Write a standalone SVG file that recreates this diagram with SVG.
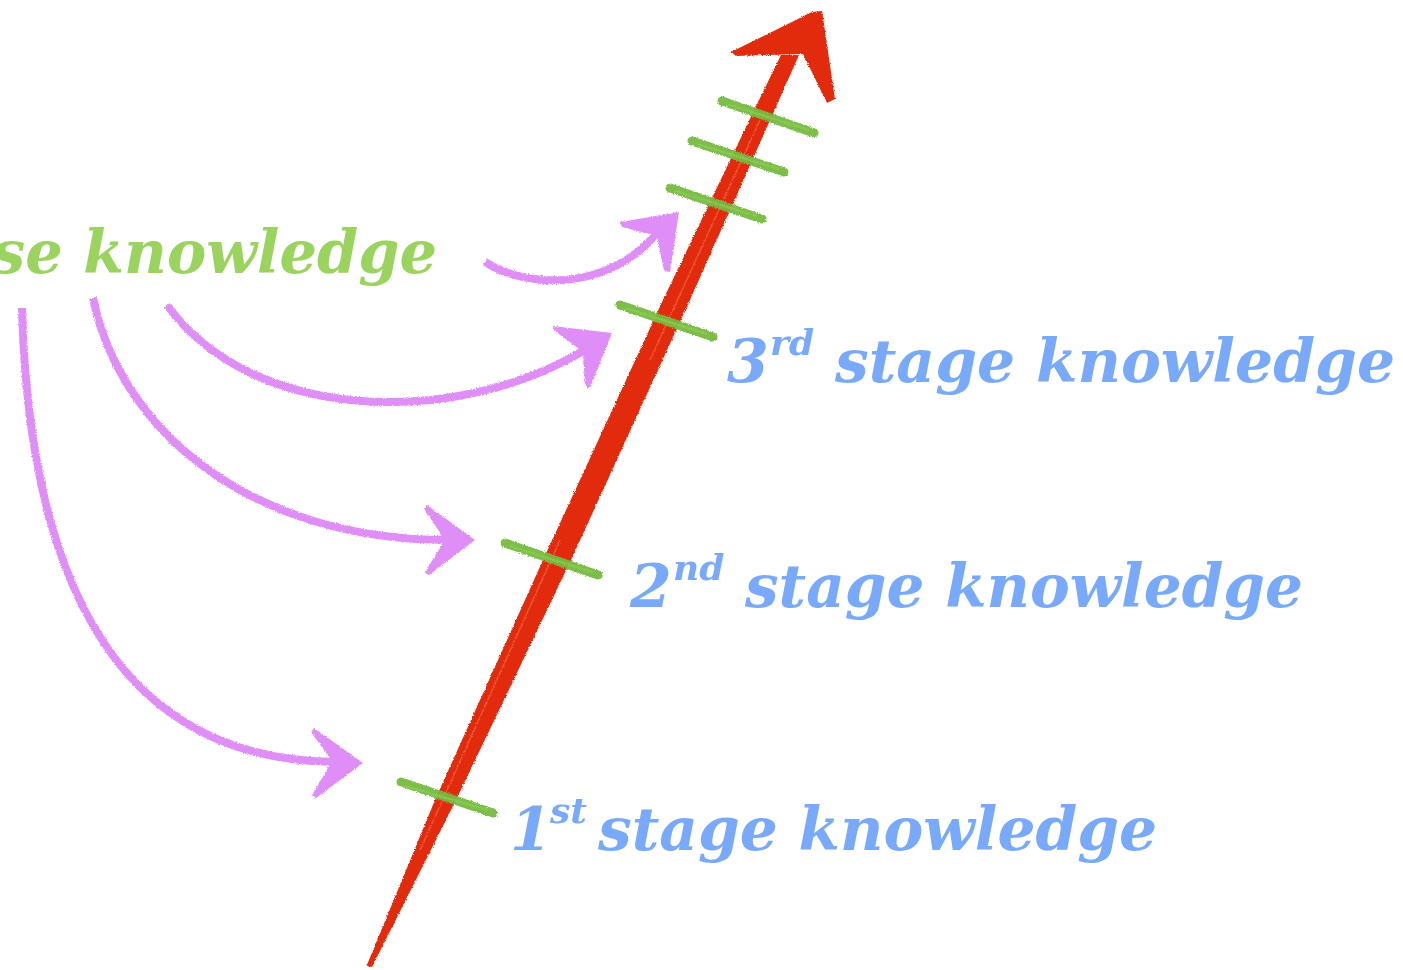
<svg xmlns="http://www.w3.org/2000/svg" width="1403" height="970" viewBox="0 0 1403 970">
<defs>
<filter id="rough" filterUnits="userSpaceOnUse" x="0" y="0" width="1403" height="970">
<feTurbulence type="fractalNoise" baseFrequency="0.9" numOctaves="2" seed="4" result="n"/>
<feDisplacementMap in="SourceGraphic" in2="n" scale="3" xChannelSelector="R" yChannelSelector="G"/>
</filter>
<style>
.lbl{font-family:"DejaVu Serif","Liberation Serif",serif;font-weight:bold;font-style:italic;}
.blue{fill:#78a9fa;font-size:60px;}
.sup{fill:#78a9fa;font-size:36px;}
.green{fill:#9ad35d;font-size:60px;}
.pur{fill:none;stroke:#e08ef7;stroke-width:8;stroke-linecap:butt;}
.purh{fill:#e08ef7;}
.tick{stroke:#76ba40;stroke-width:9;stroke-linecap:round;fill:none;opacity:0.95;}
.tick2{stroke:#8fcc55;stroke-width:2;fill:none;opacity:0.8;}
.red{fill:#e22a0a;}
</style>
</defs>
<rect width="1403" height="970" fill="#ffffff"/>

<g id="axis" filter="url(#rough)">
<path class="red" d="M366.5,966 L435,800 L543,560 L663,300 L759,100 L781,55 L799,55 L779,100 L690,300 L571,560 L456,800 L372,967 Z"/>
<path class="red" d="M731,52 L812,12 L822,11 L835,99 L827,103 L803,54 L736,56 Z"/>
<path d="M420,850 L560,540 M650,360 L760,120" stroke="#f2735a" stroke-width="1.5" opacity="0.6" fill="none"/>
</g>

<g id="ticks" filter="url(#rough)">
<path class="tick" d="M401,782 L493,813"/>
<path class="tick2" d="M405,786 L488,810"/>
<path class="tick" d="M505,543 L598,575"/>
<path class="tick2" d="M510,546 L592,572"/>
<path class="tick" d="M620,305 L713,337"/>
<path class="tick2" d="M625,308 L707,334"/>
<path class="tick" d="M670,188 L762,219"/>
<path class="tick2" d="M675,191 L757,216"/>
<path class="tick" d="M692,141 L784,172"/>
<path class="tick2" d="M697,144 L779,169"/>
<path class="tick" d="M722,101 L814,133"/>
<path class="tick2" d="M727,104 L809,130"/>
</g>

<g id="source">
<text class="lbl green" x="437" y="273" text-anchor="end" textLength="445" lengthAdjust="spacingAndGlyphs">se knowledge</text>
</g>

<g id="stage3">
<text class="lbl blue" x="727" y="382">3</text>
<text class="lbl sup" x="770" y="355">rd</text>
<text class="lbl blue" x="835" y="382" textLength="560" lengthAdjust="spacingAndGlyphs">stage knowledge</text>
</g>
<g id="stage2">
<text class="lbl blue" x="630" y="607">2</text>
<text class="lbl sup" x="673" y="580">nd</text>
<text class="lbl blue" x="745" y="607" textLength="558" lengthAdjust="spacingAndGlyphs">stage knowledge</text>
</g>
<g id="stage1">
<text class="lbl blue" x="510" y="850">1</text>
<text class="lbl sup" x="550" y="823">st</text>
<text class="lbl blue" x="598" y="850" textLength="559" lengthAdjust="spacingAndGlyphs">stage knowledge</text>
</g>

<g id="connectors" filter="url(#rough)">
<path class="pur" d="M485,262 C530,290 610,290 657,233"/>
<path class="purh" d="M620,222 L679,212 L670,272 L664,271 L657,236 L622,227 Z"/>
<path class="pur" d="M167,305 C250,420 450,430 585,350"/>
<path class="purh" d="M552,326 L612,333 L590,388 L585,387 L583,352 L555,331 Z"/>
<path class="pur" d="M93,298 C120,430 250,540 448,540"/>
<path class="purh" d="M427,505 L475,540 L429,575 L425,572 L445,540 L424,509 Z"/>
<path class="pur" d="M22,308 C30,600 130,760 335,762"/>
<path class="purh" d="M314,728 L363,763 L316,798 L312,795 L332,761 L311,732 Z"/>
</g>
</svg>
